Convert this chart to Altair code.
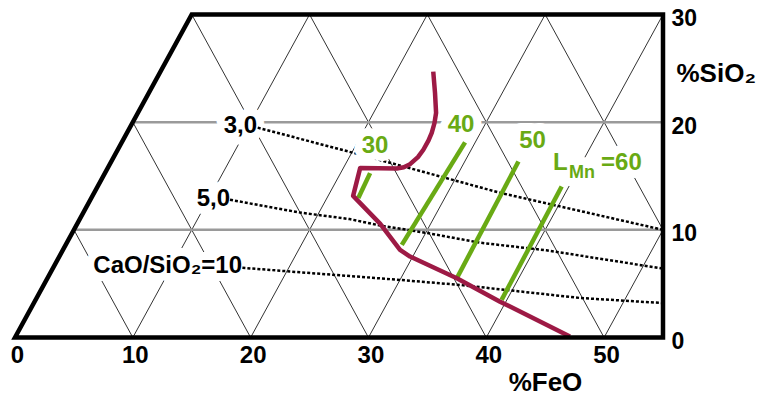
import altair as alt
import pandas as pd

FONT = "Liberation Sans"

# ---------------- values ----------------
# dark-red boundary curve (%FeO, %SiO2)
red_x = [35.5, 35.65, 35.74, 35.6, 35.37, 35.1, 34.66, 34.2, 33.53, 33.0, 32.4, 29.3, 28.7,
         31.0, 32.68, 33.53, 37.5, 41.17, 47.1]
red_y = [24.7, 22.7, 20.86, 19.9, 19.0, 18.3, 17.44, 16.75, 16.1, 15.82, 15.7, 15.75, 13.15,
         10.55, 8.14, 7.52, 5.5, 3.33, 0.1]

# green iso-L_Mn lines
lmn_values = ["30", "40", "50", "60"]
lmn_x_top = [30.14, 38.2, 42.73, 46.4]
lmn_y_top = [15.27, 18.12, 16.35, 14.03]
lmn_x_bot = [29.14, 32.83, 37.5, 41.3]
lmn_y_bot = [12.95, 8.6, 5.5, 3.49]
lmn_lab_x = [30.56, 37.86, 43.93, 45.67]
lmn_lab_y = [17.75, 19.77, 18.23, 16.19]

# dotted CaO/SiO2 iso-basicity lines
bas_labels = ["3,0", "5,0", "CaO/SiO\u2082=10"]
bas30_x = [20.6, 28.69, 31.83, 41.17, 55.0]
bas30_y = [19.49, 17.16, 16.23, 13.44, 10.0]
bas50_x = [18.25, 24.2, 28.4, 31.0, 35.0, 39.5, 45.1, 55.0]
bas50_y = [12.79, 11.6, 11.0, 10.4, 9.7, 8.8, 8.1, 6.4]
bas10_x = [19.3, 32.68, 37.78, 47.96, 55.0]
bas10_y = [6.47, 5.35, 4.88, 3.67, 3.2]
bas_lab_x = [20.55, 18.25, 19.27]
bas_lab_y = [19.6, 12.9, 6.65]

# axes / frame
x_ticks = [0, 10, 20, 30, 40, 50]
y_ticks = [0, 10, 20, 30]
x_max = 55
y_max = 30
grid_c = [10, 20, 30, 40, 50, 60]
gray_levels = [10, 20]

RED = "#9d1a45"
GREEN = "#69aa14"

# ---------------- derived tables ----------------
xs = alt.Scale(domain=[0, x_max], nice=False, zero=False)
ys = alt.Scale(domain=[0, y_max], nice=False, zero=False)

# triangular grid (lines of slope +2 and -2 inside the trapezoid x >= y/2)
g_rows = []
for c in grid_c:
    if c <= 50:
        xe = min(c + y_max / 2, x_max)
        ye = 2 * (xe - c)
        g_rows.append({"x": c, "y": 0, "x2": xe, "y2": ye})
    if c <= x_max:
        lo = (c, 0)
    else:
        lo = (x_max, 2 * (c - x_max))
    if c <= y_max:
        hi = (c / 2, c)
    else:
        hi = (c - y_max / 2, y_max)
    g_rows.append({"x": lo[0], "y": lo[1], "x2": hi[0], "y2": hi[1]})
grid_df = pd.DataFrame(g_rows)

gray_df = pd.DataFrame({"x": [v / 2 for v in gray_levels], "x2": [x_max] * len(gray_levels),
                        "y": gray_levels, "y2": gray_levels})

frame_x = [x_max / 2, 0, y_max / 2, x_max, x_max, x_max / 2]
frame_y = [0, 0, y_max, y_max, 0, 0]
frame_df = pd.DataFrame({"x": frame_x, "y": frame_y, "o": list(range(len(frame_x)))})

red_df = pd.DataFrame({"x": red_x, "y": red_y, "o": list(range(len(red_x)))})

green_df = pd.DataFrame({"x": lmn_x_bot, "y": lmn_y_bot, "x2": lmn_x_top, "y2": lmn_y_top})

dot_rows = []
for s, (xx, yy) in enumerate([(bas30_x, bas30_y), (bas50_x, bas50_y), (bas10_x, bas10_y)]):
    for i, (a, b) in enumerate(zip(xx, yy)):
        dot_rows.append({"s": s, "o": i, "x": a, "y": b})
dot_df = pd.DataFrame(dot_rows)

blab_df = pd.DataFrame({"x": bas_lab_x, "y": bas_lab_y, "t": bas_labels})
glab_df = pd.DataFrame({"x": lmn_lab_x[:3], "y": lmn_lab_y[:3], "t": lmn_values[:3]})
lmn_df = pd.DataFrame({"x": [lmn_lab_x[3]], "y": [lmn_lab_y[3]], "t": ["=" + lmn_values[3]]})

x_axis = alt.Axis(values=x_ticks, title="%FeO", domain=False, ticks=False, tickSize=0, grid=False,
                  labelFont=FONT, labelFontSize=24, labelFontWeight="bold", labelColor="black",
                  labelPadding=6, labelOffset=2, labelFlush=False, labelOverlap=False,
                  titleFont=FONT, titleFontSize=26, titleFontWeight="bold", titleColor="black",
                  titleX=530, titleY=52.5, titleBaseline="alphabetic", titleAlign="center")
y_axis = alt.Axis(orient="right", values=y_ticks, title="%SiO\u2082", domain=False, ticks=False,
                  tickSize=0, grid=False, labelFont=FONT, labelFontSize=23, labelFontWeight="bold",
                  labelColor="black", labelPadding=8, labelAlign="left", labelBaseline="middle",
                  labelOffset=4, labelFlush=False, labelOverlap=False,
                  titleFont=FONT, titleFontSize=26, titleFontWeight="bold", titleColor="black",
                  titleAngle=0, titleAlign="left", titleBaseline="middle", titleX=13, titleY=58.5)


def XY():
    return dict(x=alt.X("x:Q", scale=xs, axis=x_axis), y=alt.Y("y:Q", scale=ys, axis=y_axis))


grid = alt.Chart(grid_df).mark_rule(color="#333333", strokeWidth=1).encode(
    **XY(), x2="x2:Q", y2="y2:Q")
gray = alt.Chart(gray_df).mark_rule(color="#9a9a9a", strokeWidth=2.5).encode(
    **XY(), x2="x2:Q", y2="y2:Q")

txt = dict(font=FONT, fontSize=24, fontWeight="bold", baseline="middle")
sub = dict(font=FONT, fontSize=18, fontWeight="bold", baseline="middle", dx=16, dy=10)
halo = dict(color="white", stroke="white", strokeWidth=16, strokeJoin="round")

blab_halo = alt.Chart(blab_df).mark_text(align="right", **txt, **halo).encode(**XY(), text="t:N")
dots = alt.Chart(dot_df).mark_line(color="black", strokeWidth=2.5, strokeDash=[3, 2]).encode(
    **XY(), detail="s:N", order="o:Q")
glab_halo = alt.Chart(glab_df).mark_text(align="center", **txt, **halo).encode(**XY(), text="t:N")
l_main_h = alt.Chart(lmn_df).mark_text(align="left", **txt, **halo).encode(
    **XY(), text=alt.value("L"))
l_sub_h = alt.Chart(lmn_df).mark_text(align="left", **sub, **halo).encode(
    **XY(), text=alt.value("Mn"))
l_rest_h = alt.Chart(lmn_df).mark_text(align="left", dx=48, **txt, **halo).encode(
    **XY(), text="t:N")
green = alt.Chart(green_df).mark_rule(color=GREEN, strokeWidth=4.5).encode(
    **XY(), x2="x2:Q", y2="y2:Q")
red = alt.Chart(red_df).mark_line(color=RED, strokeWidth=4.5, strokeJoin="round").encode(
    **XY(), order="o:Q")
frame = alt.Chart(frame_df).mark_line(color="black", strokeWidth=4.5, strokeJoin="miter").encode(
    **XY(), order="o:Q")

blab = alt.Chart(blab_df).mark_text(align="right", color="black", **txt).encode(**XY(), text="t:N")
glab = alt.Chart(glab_df).mark_text(align="center", color=GREEN, **txt).encode(**XY(), text="t:N")
l_main = alt.Chart(lmn_df).mark_text(align="left", color=GREEN, **txt).encode(
    **XY(), text=alt.value("L"))
l_sub = alt.Chart(lmn_df).mark_text(align="left", color=GREEN, **sub).encode(
    **XY(), text=alt.value("Mn"))
l_rest = alt.Chart(lmn_df).mark_text(align="left", color=GREEN, dx=48, **txt).encode(
    **XY(), text="t:N")

chart = alt.layer(
    grid, gray, blab_halo, dots, glab_halo, l_main_h, l_sub_h, l_rest_h, green, red, frame,
    blab, glab, l_main, l_sub, l_rest
).properties(
    width=648, height=323,
    autosize=alt.AutoSizeParams(type="none"),
    padding={"left": 7, "top": 6.5, "right": 101, "bottom": 58.5},
    background="white",
).configure_view(stroke=None)

chart.save("out.html", embed_options={"renderer": "svg", "actions": False})
